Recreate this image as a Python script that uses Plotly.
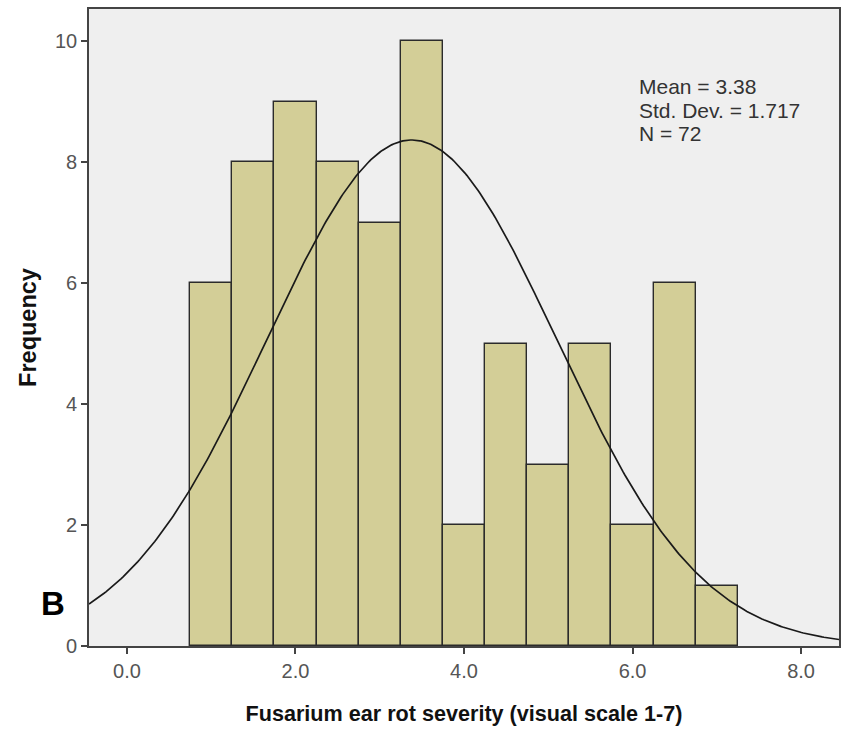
import numpy as np
import plotly.graph_objects as go

# Histogram bins (width 0.5) and counts
bin_centers = [1.0, 1.5, 2.0, 2.5, 3.0, 3.5, 4.0, 4.5, 5.0, 5.5, 6.0, 6.5, 7.0]
counts = [6, 8, 9, 8, 7, 10, 2, 5, 3, 5, 2, 6, 1]
bin_width = 0.5

# Summary statistics
mean_val = 3.38
std_val = 1.717
n_val = 72

x_ticks = [0, 2, 4, 6, 8]
x_tick_labels = ["0.0", "2.0", "4.0", "6.0", "8.0"]
y_ticks = [0, 2, 4, 6, 8, 10]

FONT = "Liberation Sans, Arial"

W, H = 846, 730
ML, MR, MT, MB = 89, 5, 9, 84


def px_to_paper(px, py):
    return (px - ML) / (W - ML - MR), (H - MB - py) / (H - MT - MB)


fig = go.Figure()

fig.add_trace(go.Bar(
    x=bin_centers, y=counts, width=bin_width,
    marker=dict(color="#d3ce97", line=dict(color="#2b2b2b", width=1.4)),
    showlegend=False, hoverinfo="x+y",
))

# Normal curve scaled to the histogram
xs = np.linspace(-0.45, 8.45, 400)
ys = n_val * bin_width / (std_val * np.sqrt(2 * np.pi)) * np.exp(-0.5 * ((xs - mean_val) / std_val) ** 2)
fig.add_trace(go.Scatter(
    x=xs, y=ys, mode="lines",
    line=dict(color="#1a1a1a", width=1.7),
    showlegend=False, hoverinfo="skip",
))

# Statistics box text, one line per annotation
stat_lines = [f"Mean = {mean_val:.2f}", f"Std. Dev. = {std_val:.3f}", f"N = {n_val}"]
for i, line in enumerate(stat_lines):
    ax, ay = px_to_paper(638, 86 + 24 * i)
    fig.add_annotation(
        x=ax, y=ay, xref="paper", yref="paper",
        xanchor="left", yanchor="middle", align="left", showarrow=False,
        text=line, font=dict(family=FONT, size=21, color="#333333"),
    )

bx, by = px_to_paper(39, 603)
fig.add_annotation(
    x=bx, y=by, xref="paper", yref="paper", showarrow=False,
    text="<b>B</b>", font=dict(family=FONT, size=33, color="#000000"),
    xanchor="left", yanchor="middle",
)

axis_common = dict(
    showgrid=False, zeroline=False, showline=True, mirror=True,
    linecolor="#444444", linewidth=1.6,
    ticks="outside", ticklen=6, tickwidth=1.6, tickcolor="#444444",
    tickfont=dict(family=FONT, size=20, color="#555555"),
)

fig.update_layout(
    width=W, height=H,
    margin=dict(l=ML, r=MR, t=MT, b=MB),
    paper_bgcolor="#ffffff", plot_bgcolor="#efefef",
    bargap=0,
    font=dict(family=FONT, size=20, color="#555555"),
    xaxis=dict(
        range=[-0.45, 8.45], tickvals=x_ticks, ticktext=x_tick_labels,
        title=dict(text="<b>Fusarium ear rot severity (visual scale 1-7)</b>",
                   font=dict(family=FONT, size=21.6, color="#111111"), standoff=25),
        **axis_common,
    ),
    yaxis=dict(
        range=[0, 10.53], tickvals=y_ticks,
        title=dict(text="<b>Frequency</b>", font=dict(family=FONT, size=23.5, color="#111111"), standoff=12),
        **axis_common,
    ),
)

fig.write_html("out.html")
